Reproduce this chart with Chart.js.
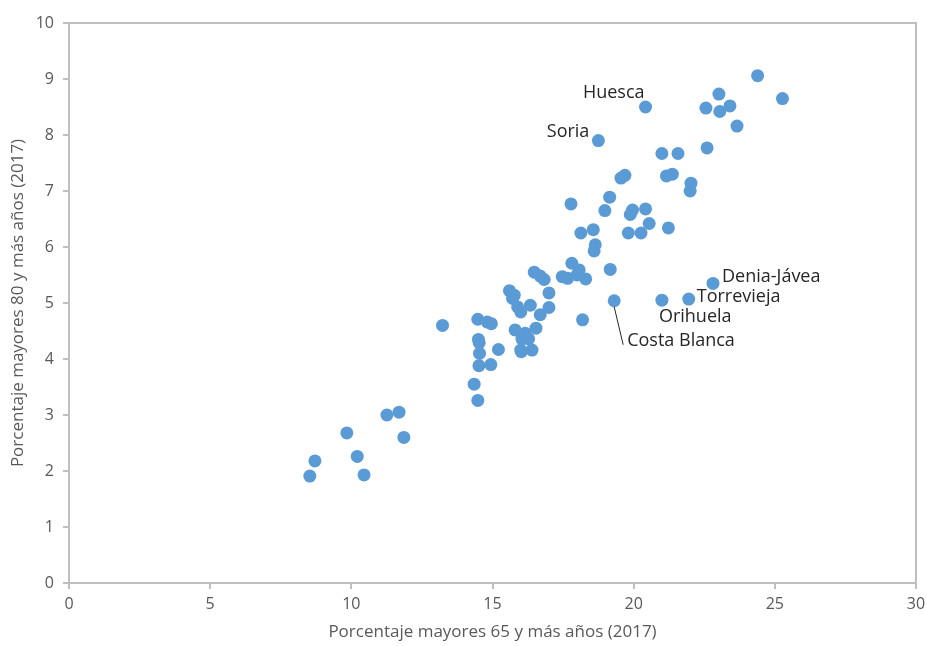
<!DOCTYPE html>
<html>
<head>
<meta charset="utf-8">
<script src="https://cdn.jsdelivr.net/npm/chart.js@4"></script>
<style>
  html, body { margin: 0; padding: 0; background: #fff; }
  #wrap { width: 927px; height: 646px; }
</style>
</head>
<body>
<div id="wrap"><canvas id="myChart" width="927" height="646"></canvas></div>
<script>
// % 65 y más años (x) y % 80 y más años (y), 2017
const mayores65 = [
  8.53, 8.71, 9.84, 10.21, 10.45, 11.26, 11.69, 11.86,
  13.23, 14.35, 14.48, 14.48, 14.50, 14.53, 14.54, 14.52, 14.94, 14.82, 14.96,
  15.21, 15.80, 16.16, 16.04, 16.28, 16.00, 16.02, 16.40, 16.54, 16.69, 17.00, 17.00,
  16.34, 15.89, 16.00, 15.60, 15.77, 15.71, 16.48, 16.69, 16.83,
  17.47, 17.66, 17.81, 17.99, 18.07, 18.30, 19.17, 19.31, 18.19,
  18.64, 18.60, 18.13, 18.57, 19.81, 20.26, 17.78, 18.98, 19.96, 19.88, 20.42,
  20.55, 21.23, 19.15, 19.55, 19.69, 21.16, 21.37, 22.03, 22.00,
  21.00, 21.57, 22.60, 18.75, 23.66, 20.42, 22.56, 23.05, 23.41,
  23.02, 25.27, 24.39, 22.81, 21.95, 21.00
]
const mayores80 = [
  1.91, 2.18, 2.68, 2.26, 1.93, 3.00, 3.05, 2.60,
  4.60, 3.55, 3.26, 4.71, 4.35, 4.29, 4.10, 3.88, 3.90, 4.66, 4.63,
  4.17, 4.52, 4.46, 4.36, 4.36, 4.16, 4.13, 4.16, 4.55, 4.79, 4.92, 5.18,
  4.96, 4.93, 4.84, 5.22, 5.14, 5.08, 5.55, 5.48, 5.42,
  5.47, 5.44, 5.71, 5.50, 5.59, 5.43, 5.60, 5.04, 4.70,
  6.04, 5.93, 6.25, 6.31, 6.25, 6.25, 6.77, 6.65, 6.66, 6.58, 6.68,
  6.42, 6.34, 6.89, 7.23, 7.28, 7.27, 7.30, 7.14, 7.00,
  7.67, 7.67, 7.77, 7.90, 8.16, 8.50, 8.48, 8.42, 8.52,
  8.73, 8.65, 9.06, 5.35, 5.07, 5.05
]

// etiquetas de algunos puntos
const etiquetas = ['Huesca', 'Soria', 'Denia-Jávea', 'Torrevieja', 'Orihuela', 'Costa Blanca']
const etiquetaX = [20.42, 18.75, 22.81, 21.95, 21.00, 19.31]
const etiquetaY = [8.50, 7.90, 5.35, 5.07, 5.05, 5.04]

const xTicks = [0, 5, 10, 15, 20, 25, 30]
const yTicks = [0, 1, 2, 3, 4, 5, 6, 7, 8, 9, 10]

const axisGrey = '#bfbfbf'
const textGrey = '#595959'
const fontFam = "'Open Sans', 'Noto Sans', sans-serif"

// dx, dy (px) y alineación de cada etiqueta respecto a su punto
const labelPos = {
  'Huesca': { dx: -1, dy: -14, align: 'right' },
  'Soria': { dx: -9, dy: -9, align: 'right' },
  'Denia-Jávea': { dx: 9, dy: -7, align: 'left' },
  'Torrevieja': { dx: 8, dy: -2, align: 'left' },
  'Orihuela': { dx: -3, dy: 17, align: 'left' },
  'Costa Blanca': { dx: 13, dy: 40, align: 'left', line: true }
}

const labelsPlugin = {
  id: 'pointLabels',
  afterDatasetsDraw(chart) {
    const { ctx, scales } = chart
    ctx.save()
    // marco del área de trazado
    const a = chart.chartArea
    ctx.strokeStyle = axisGrey
    ctx.lineWidth = 2
    ctx.beginPath()
    ctx.moveTo(a.left, a.top)
    ctx.lineTo(a.right, a.top)
    ctx.lineTo(a.right, a.bottom)
    ctx.stroke()

    ctx.font = `18px ${fontFam}`
    ctx.fillStyle = '#262626'
    ctx.textBaseline = 'middle'
    etiquetas.forEach((name, i) => {
      const px = scales.x.getPixelForValue(etiquetaX[i])
      const py = scales.y.getPixelForValue(etiquetaY[i])
      const p = labelPos[name]
      if (p.line) {
        ctx.strokeStyle = '#262626'
        ctx.lineWidth = 1
        ctx.beginPath()
        ctx.moveTo(px, py + 6)
        ctx.lineTo(px + 9, py + 44)
        ctx.stroke()
      }
      ctx.textAlign = p.align
      ctx.fillText(name, px + p.dx, py + p.dy)
    })
    ctx.restore()
  }
}

const points = mayores65.map((v, i) => ({ x: v, y: mayores80[i] }))

new Chart(document.getElementById('myChart'), {
  type: 'scatter',
  data: {
    datasets: [{
      data: points,
      backgroundColor: '#5b9bd5',
      borderColor: '#5b9bd5',
      borderWidth: 0,
      pointRadius: 6.5,
      pointHoverRadius: 6.5
    }]
  },
  options: {
    responsive: false,
    animation: false,
    layout: { padding: { top: 23, right: 11, left: 4, bottom: 0 } },
    plugins: { legend: { display: false }, tooltip: { enabled: false } },
    scales: {
      x: {
        type: 'linear',
        min: 0, max: 30,
        afterBuildTicks: (s) => { s.ticks = xTicks.map(v => ({ value: v })) },
        afterFit: (s) => { s.height = 63; s.paddingRight = 0; s.paddingLeft = 0 },
        grid: { drawOnChartArea: false, drawTicks: true, tickLength: 6, color: axisGrey, lineWidth: 2 },
        border: { display: true, color: axisGrey, width: 2 },
        ticks: { color: textGrey, font: { family: fontFam, size: 16 }, padding: 6 },
        title: { display: true, text: 'Porcentaje mayores 65 y más años (2017)', color: textGrey, font: { family: fontFam, size: 17 }, padding: { top: 7 } }
      },
      y: {
        type: 'linear',
        min: 0, max: 10,
        afterBuildTicks: (s) => { s.ticks = yTicks.map(v => ({ value: v })) },
        afterFit: (s) => { s.width = 65 },
        grid: { drawOnChartArea: false, drawTicks: true, tickLength: 6, color: axisGrey, lineWidth: 2 },
        border: { display: true, color: axisGrey, width: 2 },
        ticks: { color: textGrey, font: { family: fontFam, size: 16 }, padding: 9 },
        title: { display: true, text: 'Porcentaje mayores 80 y más años (2017)', color: textGrey, font: { family: fontFam, size: 17 }, padding: { bottom: 4 } }
      }
    }
  },
  plugins: [labelsPlugin]
})
</script>
</body>
</html>
